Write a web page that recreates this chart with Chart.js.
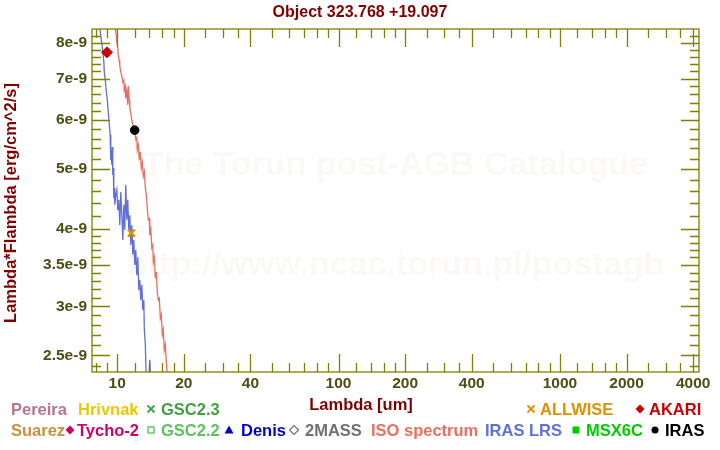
<!DOCTYPE html>
<html>
<head>
<meta charset="utf-8">
<title>Object 323.768 +19.097</title>
<script src="https://cdn.jsdelivr.net/npm/chart.js@4.4.1/dist/chart.umd.min.js"></script>
<style>
  html, body { margin: 0; padding: 0; background: #fff; }
  #wrap { width: 720px; height: 450px; }
</style>
</head>
<body>
<div id="wrap"><canvas id="sed" width="720" height="450"></canvas></div>
<script>
// ISO spectrum (wavelength in um, lambda*F_lambda in erg/cm^2/s)
const isoWave = [9.81, 9.92, 9.97, 10.07, 10.12, 10.21, 10.28, 10.39, 10.50, 10.61, 10.72, 10.77,
  10.88, 10.94, 11.06, 11.17, 11.23, 11.35, 11.41, 11.53, 11.65, 11.77, 11.89, 12.02, 12.14, 12.27,
  12.33, 12.46, 12.60, 12.72, 12.86, 12.99, 13.13, 13.27, 13.41, 13.55, 13.69, 13.83, 13.97, 14.05,
  14.20, 14.34, 14.49, 14.57, 14.72, 14.88, 15.03, 15.19, 15.35, 15.51, 15.67, 15.83, 16.00, 16.16,
  16.33, 16.50, 16.68, 16.85];
const isoFlux = [8.42e-9, 8.20e-9, 8.02e-9, 7.84e-9, 7.64e-9, 7.50e-9, 7.34e-9, 7.17e-9, 7.07e-9,
  6.91e-9, 6.96e-9, 6.71e-9, 6.81e-9, 6.51e-9, 6.66e-9, 6.35e-9, 6.81e-9, 6.46e-9, 6.28e-9, 6.14e-9,
  6.00e-9, 5.91e-9, 5.83e-9, 5.74e-9, 5.58e-9, 5.62e-9, 5.37e-9, 5.47e-9, 5.17e-9, 5.33e-9, 5.02e-9,
  5.13e-9, 4.87e-9, 4.95e-9, 4.66e-9, 4.54e-9, 4.32e-9, 4.14e-9, 4.16e-9, 3.91e-9, 3.99e-9, 3.73e-9,
  3.77e-9, 3.54e-9, 3.60e-9, 3.33e-9, 3.41e-9, 3.16e-9, 3.07e-9, 3.09e-9, 2.87e-9, 2.91e-9, 2.70e-9,
  2.75e-9, 2.55e-9, 2.60e-9, 2.44e-9, 2.32e-9];

// IRAS LRS spectrum
const lrsWave = [8.36, 8.44, 8.53, 8.62, 8.71, 8.75, 8.84, 8.94, 9.03, 9.12, 9.22, 9.30, 9.36, 9.41,
  9.46, 9.51, 9.56, 9.61, 9.66, 9.71, 9.76, 9.86, 9.97, 10.07, 10.18, 10.28, 10.39, 10.50, 10.61,
  10.72, 10.83, 10.94, 11.06, 11.17, 11.29, 11.41, 11.53, 11.65, 11.77, 11.89, 12.02, 12.14, 12.27,
  12.40, 12.53, 12.66, 12.79, 12.93, 13.06, 13.20, 13.27, 13.41, 13.55, 13.90, 14.05, 14.20];
const lrsFlux = [8.42e-9, 8.20e-9, 7.96e-9, 7.73e-9, 7.45e-9, 7.17e-9, 6.96e-9, 6.66e-9, 6.46e-9,
  6.18e-9, 5.89e-9, 5.68e-9, 5.17e-9, 5.37e-9, 5.08e-9, 5.43e-9, 4.89e-9, 5.02e-9, 4.49e-9, 4.66e-9,
  4.38e-9, 4.54e-9, 4.63e-9, 4.29e-9, 4.46e-9, 4.06e-9, 4.59e-9, 4.21e-9, 3.84e-9, 4.38e-9, 3.99e-9,
  4.71e-9, 4.14e-9, 4.46e-9, 3.99e-9, 4.21e-9, 3.77e-9, 4.06e-9, 3.64e-9, 3.84e-9, 3.50e-9, 3.70e-9,
  3.37e-9, 3.60e-9, 3.19e-9, 3.31e-9, 3.07e-9, 3.25e-9, 2.96e-9, 3.07e-9, 2.75e-9, 2.60e-9, 2.25e-9,
  2.25e-9, 2.46e-9, 2.25e-9];

// photometry
const akariWave = [9.0];
const akariFlux = [7.72e-9];
const irasWave = [12.0];
const irasFlux = [5.78e-9];
const allwiseWave = [11.6];
const allwiseFlux = [3.94e-9];

// axes
const xTickValues = [10, 20, 40, 100, 200, 400, 1000, 2000, 4000];
const xTickLabels = ['10', '20', '40', '100', '200', '400', '1000', '2000', '4000'];
const xMinorTicks = [8, 9, 12, 14, 16, 18, 25, 30, 35, 50, 60, 70, 80, 90, 120, 140, 160, 180,
  250, 300, 350, 500, 600, 700, 800, 900, 1200, 1400, 1600, 1800, 2500, 3000, 3500];
const yTickValues = [2.5e-9, 3e-9, 3.5e-9, 4e-9, 5e-9, 6e-9, 7e-9, 8e-9];
const yTickLabels = ['2.5e-9', '3e-9', '3.5e-9', '4e-9', '5e-9', '6e-9', '7e-9', '8e-9'];
const yMinorTicks = [2.4e-9, 2.6e-9, 2.7e-9, 2.8e-9, 2.9e-9, 3.1e-9, 3.2e-9, 3.3e-9, 3.4e-9,
  3.6e-9, 3.7e-9, 3.8e-9, 3.9e-9, 4.2e-9, 4.4e-9, 4.6e-9, 4.8e-9, 5.2e-9, 5.4e-9, 5.6e-9, 5.8e-9,
  6.2e-9, 6.4e-9, 6.6e-9, 6.8e-9, 7.2e-9, 7.4e-9, 7.6e-9, 7.8e-9, 8.2e-9];

const FONT = "'Liberation Sans', Arial, sans-serif";
const axisColor = '#808000';
const tickTextColor = '#4d4d14';
const titleColor = '#800000';

// legend layout (two rows under the plot, like the catalogue page)
const legendItems = [
  { text: 'Pereira', color: '#b57590', x: 11, row: 0 },
  { text: 'Hrivnak', color: '#ebc800', x: 78, row: 0 },
  { text: 'GSC2.3', color: '#40a040', x: 161, row: 0, marker: 'cross', mx: 151 },
  { text: 'ALLWISE', color: '#e09000', x: 540, row: 0, marker: 'cross', mx: 531 },
  { text: 'AKARI', color: '#cc0000', x: 649, row: 0, marker: 'diamond', mx: 640 },
  { text: 'Suarez', color: '#c8903c', x: 11, row: 1 },
  { text: 'Tycho-2', color: '#d0006a', x: 77, row: 1, marker: 'diamond', mx: 70 },
  { text: 'GSC2.2', color: '#60c060', x: 161, row: 1, marker: 'openSquare', mx: 151 },
  { text: 'Denis', color: '#0000cc', x: 241, row: 1, marker: 'triangle', mx: 229 },
  { text: '2MASS', color: '#707070', x: 305, row: 1, marker: 'openDiamond', mx: 294 },
  { text: 'ISO spectrum', color: '#e87060', x: 371, row: 1 },
  { text: 'IRAS LRS', color: '#6070d8', x: 485, row: 1 },
  { text: 'MSX6C', color: '#00cc00', x: 586, row: 1, marker: 'square', mx: 576 },
  { text: 'IRAS', color: '#000000', x: 665, row: 1, marker: 'dot', mx: 655 }
];

function toPoints(xs, ys) {
  return xs.map((v, i) => ({ x: v, y: ys[i] }));
}

function drawMarker(ctx, type, cx, cy, color) {
  ctx.save();
  ctx.fillStyle = color;
  ctx.strokeStyle = color;
  ctx.lineWidth = 1.8;
  ctx.beginPath();
  if (type === 'cross') {
    ctx.moveTo(cx - 3.5, cy - 3.5); ctx.lineTo(cx + 3.5, cy + 3.5);
    ctx.moveTo(cx + 3.5, cy - 3.5); ctx.lineTo(cx - 3.5, cy + 3.5);
    ctx.stroke();
  } else if (type === 'diamond' || type === 'openDiamond') {
    ctx.moveTo(cx, cy - 4.5); ctx.lineTo(cx + 4.5, cy); ctx.lineTo(cx, cy + 4.5); ctx.lineTo(cx - 4.5, cy);
    ctx.closePath();
    if (type === 'diamond') ctx.fill(); else { ctx.lineWidth = 1.2; ctx.stroke(); }
  } else if (type === 'openSquare') {
    ctx.lineWidth = 1.4;
    ctx.strokeRect(cx - 3, cy - 3, 6, 6);
  } else if (type === 'square') {
    ctx.fillRect(cx - 3.5, cy - 3.5, 7, 7);
  } else if (type === 'triangle') {
    ctx.moveTo(cx, cy - 4.5); ctx.lineTo(cx + 4.5, cy + 3.5); ctx.lineTo(cx - 4.5, cy + 3.5);
    ctx.closePath();
    ctx.fill();
  } else if (type === 'dot') {
    ctx.arc(cx, cy, 3.5, 0, Math.PI * 2);
    ctx.fill();
  }
  ctx.restore();
}

const sedDecor = {
  id: 'sedDecor',
  beforeDraw(chart) {
    const ctx = chart.ctx;
    ctx.save();
    ctx.fillStyle = '#ffffff';
    ctx.fillRect(0, 0, chart.width, chart.height);
    ctx.restore();
  },
  beforeDatasetsDraw(chart) {
    // faint catalogue watermark
    const { ctx, chartArea: a } = chart;
    const cx = (a.left + a.right) / 2;
    ctx.save();
    ctx.fillStyle = '#fbf9f6';
    ctx.font = 'bold 34px ' + FONT;
    ctx.textAlign = 'center';
    ctx.textBaseline = 'alphabetic';
    ctx.fillText('The Torun post-AGB Catalogue', cx, 175);
    ctx.fillText('http://www.ncac.torun.pl/postagb', cx, 275);
    ctx.restore();
  },
  afterDatasetsDraw(chart) {
    const { ctx, chartArea: a, scales: { x, y } } = chart;
    ctx.save();
    ctx.strokeStyle = axisColor;
    ctx.lineWidth = 1.3;
    ctx.beginPath();
    const vTick = (v, len) => {
      const px = Math.round(x.getPixelForValue(v)) + 0.5;
      ctx.moveTo(px, a.bottom); ctx.lineTo(px, a.bottom - len);
      ctx.moveTo(px, a.top); ctx.lineTo(px, a.top + len);
    };
    const hTick = (v, len) => {
      const py = Math.round(y.getPixelForValue(v)) + 0.5;
      ctx.moveTo(a.left, py); ctx.lineTo(a.left + len, py);
      ctx.moveTo(a.right, py); ctx.lineTo(a.right - len, py);
    };
    xTickValues.forEach(v => vTick(v, 18));
    xMinorTicks.forEach(v => vTick(v, 9));
    yTickValues.forEach(v => hTick(v, 18));
    yMinorTicks.forEach(v => hTick(v, 9));
    ctx.stroke();
    ctx.strokeRect(a.left, a.top, a.right - a.left, a.bottom - a.top);
    ctx.restore();
  },
  afterDraw(chart) {
    const ctx = chart.ctx;
    ctx.save();
    ctx.font = 'bold 16px ' + FONT;
    ctx.fillStyle = titleColor;
    ctx.textAlign = 'center';
    ctx.textBaseline = 'alphabetic';
    ctx.fillText('Object 323.768 +19.097', 360, 17);
    ctx.font = 'bold 16.5px ' + FONT;
    ctx.fillText('Lambda [um]', 361, 410);

    ctx.save();
    ctx.translate(16, 203);
    ctx.rotate(-Math.PI / 2);
    ctx.fillText('Lambda*Flambda [erg/cm^2/s]', 0, 0);
    ctx.restore();

    ctx.textAlign = 'left';
    legendItems.forEach(item => {
      const base = item.row === 0 ? 415 : 436;
      if (item.marker) drawMarker(ctx, item.marker, item.mx, base - 6, item.color);
      ctx.fillStyle = item.color;
      ctx.fillText(item.text, item.x, base);
    });
    ctx.restore();
  }
};

const ctx = document.getElementById('sed').getContext('2d');
new Chart(ctx, {
  type: 'scatter',
  data: {
    datasets: [
      {
        label: 'AKARI',
        data: toPoints(akariWave, akariFlux),
        pointStyle: 'rectRot',
        pointRadius: 5.5,
        backgroundColor: '#cc0000',
        borderColor: '#cc0000'
      },
      {
        label: 'IRAS',
        data: toPoints(irasWave, irasFlux),
        pointStyle: 'circle',
        pointRadius: 4.3,
        backgroundColor: '#000000',
        borderColor: '#000000'
      },
      {
        label: 'ALLWISE',
        data: toPoints(allwiseWave, allwiseFlux),
        pointStyle: 'crossRot',
        pointRadius: 5,
        borderWidth: 2.2,
        borderColor: '#e09000'
      },
      {
        label: 'ISO spectrum',
        data: toPoints(isoWave, isoFlux),
        showLine: true,
        pointRadius: 0,
        borderWidth: 1.3,
        borderColor: '#e87060',
        tension: 0
      },
      {
        label: 'IRAS LRS',
        data: toPoints(lrsWave, lrsFlux),
        showLine: true,
        pointRadius: 0,
        borderWidth: 1.3,
        borderColor: '#6070d8',
        tension: 0
      }
    ]
  },
  options: {
    responsive: false,
    animation: false,
    events: [],
    layout: { padding: { top: 29, right: 21, bottom: 50, left: 0 } },
    plugins: {
      legend: { display: false },
      tooltip: { enabled: false },
      title: { display: false }
    },
    scales: {
      x: {
        type: 'logarithmic',
        min: 7.7,
        max: 4250,
        grid: { display: false, drawTicks: false },
        border: { display: false },
        afterBuildTicks: scale => { scale.ticks = xTickValues.map(v => ({ value: v })); },
        afterFit: scale => { scale.height = 28; },
        ticks: {
          autoSkip: false,
          maxRotation: 0,
          padding: 2,
          color: tickTextColor,
          font: { family: FONT, size: 15.5, weight: 'bold' },
          callback: (value, index) => xTickLabels[index]
        }
      },
      y: {
        type: 'logarithmic',
        min: 2.35e-9,
        max: 8.42e-9,
        grid: { display: false, drawTicks: false },
        border: { display: false },
        afterBuildTicks: scale => { scale.ticks = yTickValues.map(v => ({ value: v })); },
        afterFit: scale => { scale.width = 92; },
        ticks: {
          autoSkip: false,
          padding: 5,
          color: tickTextColor,
          font: { family: FONT, size: 15.5, weight: 'bold' },
          callback: (value, index) => yTickLabels[index]
        }
      }
    }
  },
  plugins: [sedDecor]
});
</script>
</body>
</html>
